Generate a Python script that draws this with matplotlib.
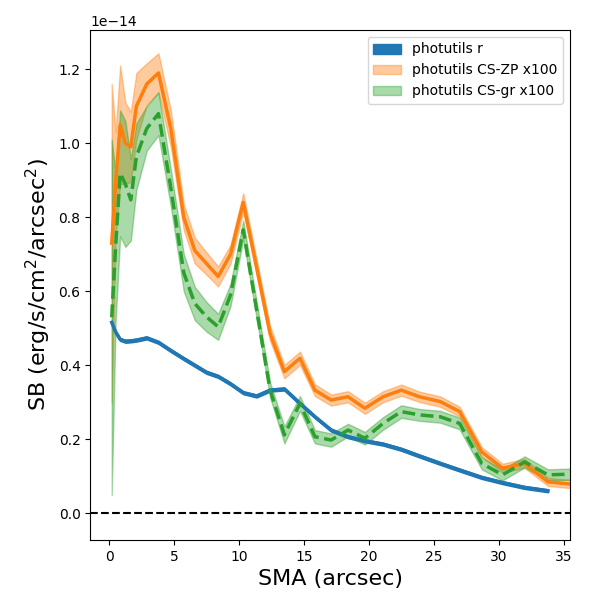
import numpy as np
import matplotlib
matplotlib.use("Agg")
import matplotlib.pyplot as plt

# SMA grid (arcsec)
sma = [0.2, 0.5, 0.85, 1.25, 1.67, 2.1, 2.9, 3.8, 4.75, 5.75, 6.6, 7.5, 8.4, 9.35,
       10.33, 11.36, 12.4, 13.5, 14.7, 15.85, 17.1, 18.4, 19.7, 21.1, 22.5, 23.9,
       25.5, 27.0, 28.7, 30.3, 32.0, 33.8, 35.6]

# photutils r (units of 1e-14)
sb_r = [0.516, 0.49, 0.47, 0.465, 0.466, 0.468, 0.474, 0.462, 0.44, 0.418, 0.40,
        0.381, 0.370, 0.350, 0.326, 0.317, 0.333, 0.336, 0.297, 0.261, 0.225,
        0.207, 0.196, 0.187, 0.173, 0.155, 0.135, 0.117, 0.097, 0.083, 0.070, 0.061]
err_r = [0.004] * len(sb_r)

# photutils CS-ZP x100
sb_zp = [0.73, 0.89, 1.05, 1.00, 0.99, 1.10, 1.16, 1.19, 1.04, 0.80, 0.71, 0.675,
         0.64, 0.70, 0.84, 0.665, 0.486, 0.383, 0.419, 0.333, 0.306, 0.315, 0.284,
         0.315, 0.333, 0.315, 0.302, 0.275, 0.166, 0.122, 0.135, 0.085, 0.079]
err_zp = [0.43, 0.14, 0.16, 0.11, 0.095, 0.09, 0.056, 0.053, 0.05, 0.035, 0.035,
          0.03, 0.027, 0.025, 0.025, 0.022, 0.02, 0.018, 0.018, 0.016, 0.015, 0.015,
          0.015, 0.015, 0.015, 0.014, 0.014, 0.013, 0.013, 0.012, 0.012, 0.011, 0.011]

# photutils CS-gr x100
sb_gr = [0.53, 0.72, 0.919, 0.89, 0.847, 0.964, 1.04, 1.08, 0.88, 0.65, 0.567,
         0.531, 0.504, 0.59, 0.766, 0.55, 0.333, 0.212, 0.297, 0.207, 0.198, 0.225,
         0.203, 0.243, 0.275, 0.266, 0.261, 0.243, 0.135, 0.104, 0.139, 0.104, 0.106]
err_gr = [0.48, 0.2, 0.17, 0.17, 0.11, 0.09, 0.06, 0.058, 0.05, 0.05, 0.045, 0.04,
          0.035, 0.03, 0.025, 0.022, 0.02, 0.023, 0.02, 0.018, 0.018, 0.017, 0.017,
          0.017, 0.017, 0.016, 0.016, 0.016, 0.016, 0.015, 0.015, 0.015, 0.015]

scale = 1e-14
x = np.array(sma)
xr = x[:len(sb_r)]
r = np.array(sb_r) * scale
er = np.array(err_r) * scale
zp = np.array(sb_zp) * scale
ezp = np.array(err_zp) * scale
gr = np.array(sb_gr) * scale
egr = np.array(err_gr) * scale

fig = plt.figure(figsize=(6, 6), dpi=100)
ax = fig.add_axes([0.1505, 0.10, 0.7995, 0.85])

ax.fill_between(xr, r - er, r + er, color="C0", label="photutils r")
ax.plot(xr, r, color="C0", lw=2.5)
ax.fill_between(x, zp - ezp, zp + ezp, color="C1", alpha=0.4, label="photutils CS-ZP x100")
ax.plot(x, zp, color="C1", lw=2.5)
ax.fill_between(x, gr - egr, gr + egr, color="C2", alpha=0.4, label="photutils CS-gr x100")
ax.plot(x, gr, color="C2", lw=2.5, ls="--")
ax.axhline(0, color="k", ls="--", lw=1.5)

ax.set_xlim(-1.45, 35.5)
ax.set_ylim(-0.072e-14, 1.306e-14)
ax.set_xlabel("SMA (arcsec)", fontsize=16)
ax.set_ylabel("SB (erg/s/cm$^2$/arcsec$^2$)", fontsize=16)
ax.legend(loc="upper right")

fig.savefig("out.png", dpi=100)
